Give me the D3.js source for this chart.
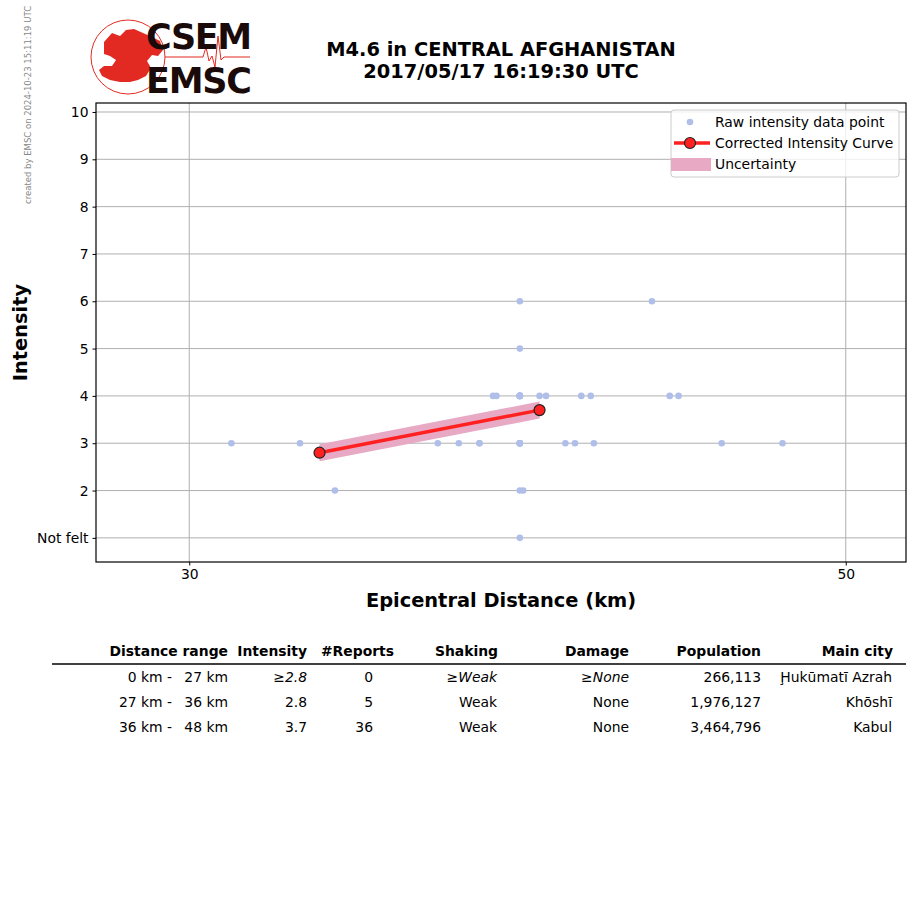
<!DOCTYPE html>
<html>
<head>
<meta charset="utf-8">
<script src="https://cdn.jsdelivr.net/npm/d3@7"></script>
<style>
  body { margin: 0; background: #fff; }
  svg { font-family: "DejaVu Sans", sans-serif; }
</style>
</head>
<body>
<div id="chart"></div>
<script>
// raw intensity reports (distance km, intensity)
const rawDistance = [31.0, 32.7, 33.6, 34.2, 34.8,
  36.4, 37.0, 37.6, 37.6, 38.8, 38.8, 40.2, 40.5, 41.1, 45.4, 47.6,
  38.0, 38.1, 38.8, 38.8, 39.4, 39.6, 40.7, 41.0, 43.6, 43.9,
  38.8, 38.8, 43.0, 38.8, 38.9, 38.8, 38.8, 38.8, 38.8, 38.8, 38.8, 38.8, 38.8, 38.8, 38.8];
const rawIntensity = [3, 3, 2, 3, 3,
  3, 3, 3, 3, 3, 3, 3, 3, 3, 3, 3,
  4, 4, 4, 4, 4, 4, 4, 4, 4, 4,
  5, 6, 6, 2, 2, 1, 4, 3, 3, 4, 4, 3, 4, 3, 4];

// corrected curve and uncertainty
const curveDistance = [33.2, 39.4];
const curveIntensity = [2.8, 3.7];
const curveLower = [2.62, 3.52];
const curveUpper = [2.98, 3.88];

const yTickValues = [1, 2, 3, 4, 5, 6, 7, 8, 9, 10];
const yTickLabels = ['Not felt', '2', '3', '4', '5', '6', '7', '8', '9', '10'];
const xTickValues = [30, 50];

// table
const tableHeader = ['Distance range', 'Intensity', '#Reports', 'Shaking', 'Damage', 'Population', 'Main city'];
const rangeFrom = ['0 km -', '27 km -', '36 km -'];
const rangeTo = ['27 km', '36 km', '48 km'];
const rowIntensity = ['≥2.8', '2.8', '3.7'];
const rowReports = ['0', '5', '36'];
const rowShaking = ['≥Weak', 'Weak', 'Weak'];
const rowDamage = ['≥None', 'None', 'None'];
const rowPopulation = ['266,113', '1,976,127', '3,464,796'];
const rowCity = ['Ḩukūmatī Azrah', 'Khōshī', 'Kabul'];
const rowItalic = [true, false, false];

const W = 915, H = 905;
const margin = {top: 103, right: 9, bottom: 343, left: 96};
const width = W - margin.left - margin.right;
const height = H - margin.top - margin.bottom;
const fs = 13.9;

const svg = d3.select('#chart').append('svg')
    .attr('width', W)
    .attr('height', H);

// watermark
svg.append('text')
    .attr('transform', 'translate(31,204) rotate(-90)')
    .attr('font-size', 8.5)
    .attr('fill', '#888')
    .text('created by EMSC on 2024-10-23 15:11:19 UTC');

// logo
const logo = svg.append('g');
logo.append('circle').attr('cx', 128).attr('cy', 57).attr('r', 37)
    .attr('fill', 'none').attr('stroke', '#e32a22').attr('stroke-width', 1);
logo.append('path')
    .attr('d', 'M104,42 L112,33 L120,36 L126,30 L134,29 L143,33 L152,37 L160,41 L163,50 L158,56 L152,55 L147,61 L151,68 L146,76 L138,80 L130,82 L120,82 L110,80 L102,76 L99,70 L104,66 L112,66 L116,60 L110,56 L104,54 Z')
    .attr('fill', '#e32a22');
logo.append('path')
    .attr('d', 'M165,57 L203,57 L206,47 L209,61 L212,56 L215,67 L218,36 L221,60 L224,57 L250,57')
    .attr('fill', 'none').attr('stroke', '#e32a22').attr('stroke-width', 1);
logo.append('text').attr('x', 146).attr('y', 49)
    .attr('font-size', 35).attr('font-weight', 'bold').attr('fill', '#1a0a0a')
    .attr('textLength', 106).text('CSEM');
logo.append('text').attr('x', 146).attr('y', 93)
    .attr('font-size', 35).attr('font-weight', 'bold').attr('fill', '#1a0a0a')
    .attr('textLength', 106).text('EMSC');

// title
svg.append('text').attr('x', 501).attr('y', 56).attr('text-anchor', 'middle')
    .attr('font-size', 19.4).attr('font-weight', 'bold').text('M4.6 in CENTRAL AFGHANISTAN');
svg.append('text').attr('x', 501).attr('y', 78).attr('text-anchor', 'middle')
    .attr('font-size', 19.4).attr('font-weight', 'bold').text('2017/05/17 16:19:30 UTC');

const g = svg.append('g')
    .attr('transform', 'translate(' + margin.left + ',' + margin.top + ')');

const xScale = d3.scaleLog().domain([27.9, 52.4]).range([0, width]);
const yScale = d3.scaleLinear().domain([0.49, 10.19]).range([height, 0]);

// grid
g.append('g').selectAll('line').data(yTickValues).join('line')
    .attr('x1', 0).attr('x2', width)
    .attr('y1', d => yScale(d)).attr('y2', d => yScale(d))
    .attr('stroke', '#b0b0b0').attr('stroke-width', 1);
g.append('g').selectAll('line').data(xTickValues).join('line')
    .attr('x1', d => xScale(d)).attr('x2', d => xScale(d))
    .attr('y1', 0).attr('y2', height)
    .attr('stroke', '#b0b0b0').attr('stroke-width', 1);

// raw points
g.append('g').selectAll('circle')
    .data(rawDistance.map((d, i) => ({x: d, y: rawIntensity[i]})))
    .join('circle')
    .attr('cx', d => xScale(d.x))
    .attr('cy', d => yScale(d.y))
    .attr('r', 3.3)
    .attr('fill', '#b0bfe9');

// uncertainty band
const band = curveDistance.map((d, i) => ({x: d, lo: curveLower[i], hi: curveUpper[i]}));
g.append('path').datum(band)
    .attr('fill', '#e8a9c4')
    .attr('d', d3.area().x(d => xScale(d.x)).y0(d => yScale(d.lo)).y1(d => yScale(d.hi)));

// corrected curve
const curve = curveDistance.map((d, i) => ({x: d, y: curveIntensity[i]}));
g.append('path').datum(curve)
    .attr('fill', 'none').attr('stroke', '#ff2020').attr('stroke-width', 3.5)
    .attr('d', d3.line().x(d => xScale(d.x)).y(d => yScale(d.y)));
g.append('g').selectAll('circle').data(curve).join('circle')
    .attr('cx', d => xScale(d.x)).attr('cy', d => yScale(d.y))
    .attr('r', 5.5).attr('fill', '#ff2020').attr('stroke', '#222').attr('stroke-width', 1.2);

// axes
const yAxis = g.append('g')
    .call(d3.axisLeft(yScale).tickValues(yTickValues).tickFormat((d, i) => yTickLabels[i]).tickSize(3.5).tickPadding(4));
const xAxis = g.append('g')
    .attr('transform', 'translate(0,' + height + ')')
    .call(d3.axisBottom(xScale).tickValues(xTickValues).tickFormat(d3.format('d')).tickSize(3.5).tickPadding(4));
[xAxis, yAxis].forEach(a => {
  a.selectAll('text').attr('font-size', fs).attr('fill', '#000').attr('font-family', 'DejaVu Sans');
  a.select('.domain').remove();
});

// frame
g.append('rect').attr('width', width).attr('height', height)
    .attr('fill', 'none').attr('stroke', '#000').attr('stroke-width', 1.2);

// axis labels
svg.append('text').attr('x', margin.left + width / 2).attr('y', 607).attr('text-anchor', 'middle')
    .attr('font-size', 19.4).attr('font-weight', 'bold').text('Epicentral Distance (km)');
svg.append('text').attr('transform', 'translate(27,' + (margin.top + height / 2) + ') rotate(-90)')
    .attr('text-anchor', 'middle')
    .attr('font-size', 19.4).attr('font-weight', 'bold').text('Intensity');

// legend
const leg = svg.append('g').attr('transform', 'translate(671,110)');
leg.append('rect').attr('width', 228).attr('height', 67).attr('rx', 3)
    .attr('fill', '#fff').attr('fill-opacity', 0.8).attr('stroke', '#ccc');
leg.append('circle').attr('cx', 19).attr('cy', 12).attr('r', 3.3).attr('fill', '#b0bfe9');
leg.append('line').attr('x1', 3).attr('x2', 39).attr('y1', 33).attr('y2', 33)
    .attr('stroke', '#ff2020').attr('stroke-width', 3.5);
leg.append('circle').attr('cx', 19).attr('cy', 33).attr('r', 5.5)
    .attr('fill', '#ff2020').attr('stroke', '#222').attr('stroke-width', 1.2);
leg.append('rect').attr('x', 0).attr('y', 48).attr('width', 40).attr('height', 13).attr('fill', '#e8a9c4');
['Raw intensity data point', 'Corrected Intensity Curve', 'Uncertainty'].forEach((t, i) => {
  leg.append('text').attr('x', 44).attr('y', 17 + i * 21).attr('font-size', fs).text(t);
});

// table
const tbl = svg.append('g');
const colRight = [228, 307, 394, 498, 629, 761, 893];
tableHeader.forEach((t, i) => {
  tbl.append('text').attr('x', colRight[i]).attr('y', 656).attr('text-anchor', 'end')
      .attr('font-size', fs).attr('font-weight', 'bold').text(t);
});
tbl.append('line').attr('x1', 52).attr('x2', 906).attr('y1', 664).attr('y2', 664)
    .attr('stroke', '#000').attr('stroke-width', 1.3);
const rowY = [682, 707, 732];
rowY.forEach((y, r) => {
  const cells = [
    {x: 172, t: rangeFrom[r]},
    {x: 228, t: rangeTo[r]},
    {x: 307, t: rowIntensity[r], it: rowItalic[r]},
    {x: 373, t: rowReports[r]},
    {x: 497, t: rowShaking[r], it: rowItalic[r]},
    {x: 629, t: rowDamage[r], it: rowItalic[r]},
    {x: 761, t: rowPopulation[r]},
    {x: 892, t: rowCity[r]}
  ];
  cells.forEach(c => {
    const txt = tbl.append('text').attr('x', c.x).attr('y', y).attr('text-anchor', 'end').attr('font-size', fs);
    if (c.it) {
      txt.append('tspan').text(c.t[0]);
      txt.append('tspan').attr('font-style', 'italic').text(c.t.slice(1));
    } else {
      txt.text(c.t);
    }
  });
});
</script>
</body>
</html>
